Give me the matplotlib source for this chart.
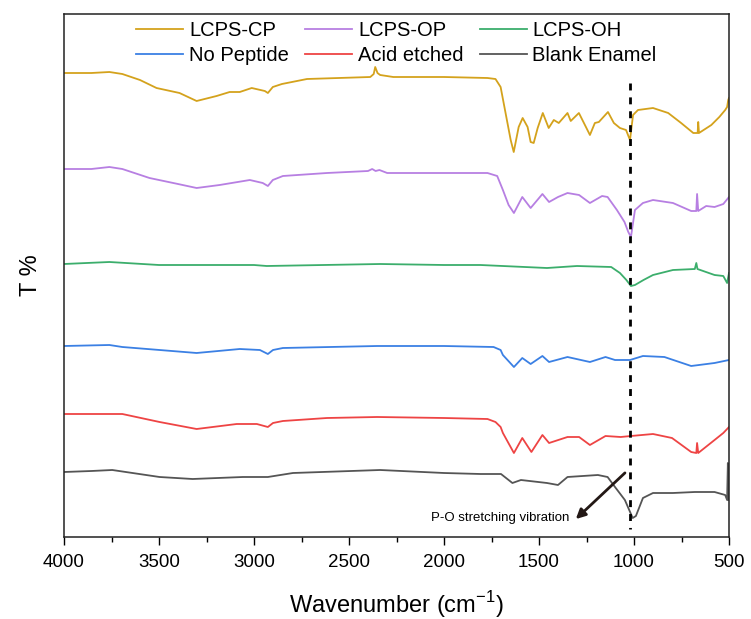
import matplotlib
matplotlib.use("Agg")
import matplotlib.pyplot as plt
import numpy as np

plt.rcParams['font.family'] = ['Liberation Sans', 'DejaVu Sans']

# Wavenumbers (cm-1) and vertical readings (stacked-scale units; larger = lower on chart)
cp_x = [4000, 3856, 3761, 3693, 3600, 3513, 3392, 3302, 3197, 3128, 3075, 3012, 2943, 2927, 2901, 2853, 2721,
        2388, 2370, 2362, 2350, 2336, 2267, 2000, 1771, 1729, 1702, 1676, 1649, 1633, 1607, 1586, 1560, 1544,
        1528, 1507, 1480, 1449, 1422, 1396, 1350, 1333, 1290, 1253, 1232, 1206, 1185, 1137, 1106, 1074, 1042,
        1021, 1005, 979, 900, 820, 752, 688, 665, 662, 658, 593, 551, 520, 510, 504, 500]
cp_y = [73, 73, 72, 74, 80, 88, 93, 101, 96, 92, 92, 88, 91, 93, 87, 84, 79,
        77, 74, 67, 73, 75, 77, 77, 78, 79, 87, 113, 140, 152, 127, 118, 127, 142,
        143, 128, 113, 128, 120, 123, 113, 121, 113, 127, 135, 123, 122, 112, 123, 128, 130,
        140, 115, 110, 108, 113, 123, 133, 133, 122, 133, 125, 117, 110, 107, 100, 98]

op_x = [4000, 3856, 3761, 3693, 3550, 3400, 3302, 3181, 3022, 2954, 2927, 2901, 2848, 2616, 2400, 2378, 2360,
        2340, 2299, 2000, 1771, 1720, 1690, 1660, 1632, 1588, 1544, 1482, 1447, 1400, 1350, 1289, 1232, 1168,
        1139, 1090, 1050, 1030, 1016, 995, 953, 900, 795, 699, 672, 668, 662, 620, 576, 530, 500]
op_y = [169, 169, 167, 169, 178, 184, 188, 185, 180, 183, 186, 180, 176, 173, 171, 169, 171,
        170, 173, 173, 173, 176, 190, 205, 213, 197, 208, 194, 202, 197, 193, 195, 203, 196,
        197, 210, 222, 232, 237, 210, 203, 200, 203, 211, 211, 194, 211, 206, 207, 204, 197]

oh_x = [4000, 3761, 3500, 3000, 2933, 2336, 2000, 1808, 1458, 1300, 1120, 1074, 1040, 1016, 995, 950, 900, 795,
        680, 672, 666, 576, 530, 510, 500]
oh_y = [264, 262, 265, 265, 266, 264, 265, 265, 268, 266, 267, 273, 280, 286, 285, 280, 275, 270,
        269, 263, 269, 275, 276, 283, 273]

np_x = [4000, 3761, 3693, 3497, 3302, 3075, 2969, 2927, 2900, 2848, 2352, 2000, 1739, 1702, 1690, 1632, 1588,
        1544, 1482, 1447, 1350, 1232, 1150, 1100, 1021, 953, 840, 699, 576, 500]
np_y = [346, 345, 347, 350, 353, 349, 350, 354, 350, 348, 346, 346, 347, 350, 355, 367, 358,
        364, 356, 362, 357, 362, 357, 360, 360, 356, 357, 366, 363, 360]

ae_x = [4000, 3693, 3497, 3302, 3091, 2985, 2927, 2900, 2848, 2616, 2352, 2000, 1771, 1729, 1702, 1690, 1632,
        1588, 1540, 1482, 1447, 1350, 1289, 1232, 1150, 1070, 1016, 900, 800, 699, 672, 668, 662, 576, 530, 500]
ae_y = [414, 414, 422, 429, 424, 424, 427, 423, 421, 418, 417, 418, 419, 422, 427, 433, 453,
        438, 452, 435, 443, 437, 437, 445, 436, 437, 436, 434, 438, 452, 453, 443, 453, 440, 433, 427]

be_x = [4000, 3856, 3746, 3497, 3323, 3059, 2927, 2795, 2336, 2000, 1808, 1700, 1640, 1595, 1458, 1400, 1350,
        1190, 1139, 1100, 1048, 1007, 990, 953, 900, 795, 680, 576, 520, 510, 506, 503, 500]
be_y = [472, 471, 470, 477, 479, 477, 477, 473, 470, 473, 474, 474, 483, 480, 483, 485, 477,
        475, 477, 487, 500, 518, 516, 498, 493, 493, 492, 492, 495, 500, 463, 500, 480]

labels = ["LCPS-CP", "LCPS-OP", "LCPS-OH", "No Peptide", "Acid etched", "Blank Enamel"]
colors = ["#d4a21c", "#b77fe2", "#3cae6c", "#3b80e4", "#ee4444", "#555555"]
series = [(cp_x, cp_y), (op_x, op_y), (oh_x, oh_y), (np_x, np_y), (ae_x, ae_y), (be_x, be_y)]

po_band = 1021
annot_text = "P-O stretching vibration"

fig = plt.figure(figsize=(7.51, 6.19), dpi=100)
ax = fig.add_axes([64/751, 82/619, 665/751, 523/619])

handles = []
for (x, y), lab, c in zip(series, labels, colors):
    h, = ax.plot(x, y, color=c, lw=1.3, label=lab)
    handles.append(h)

ax.plot([po_band, po_band], [83, 529], color='black', lw=2, ls=(0, (2.5, 2.5)))
ax.annotate("", xy=(1317, 521), xytext=(1037, 471),
            arrowprops=dict(arrowstyle='-|>', color='#231815', lw=2, mutation_scale=14))
ax.text(1340, 518, annot_text, fontsize=9.5, ha='right', va='center', color='black')

ax.set_xlim(4000, 500)
ax.set_ylim(537, 14)
ax.set_yticks([])
ax.set_xticks([4000, 3500, 3000, 2500, 2000, 1500, 1000, 500])
ax.set_xticks(np.arange(3750, 500, -500), minor=True)
ax.tick_params(axis='x', which='major', direction='out', length=6, width=1, labelsize=13.5, pad=6)
ax.tick_params(axis='x', which='minor', direction='out', length=3.5, width=1)
for s in ax.spines.values():
    s.set_linewidth(1.1)
    s.set_color('#222222')

ax.set_xlabel("Wavenumber (cm$^{\\mathregular{-1}}$)", fontsize=17, labelpad=13)
ax.set_ylabel("T %", fontsize=17, labelpad=16)

# row-wise legend order: matplotlib fills columns first
order = [0, 3, 1, 4, 2, 5]
ax.legend([handles[i] for i in order], [labels[i] for i in order],
          loc='upper left', ncol=3, frameon=False, fontsize=14.5, handlelength=2.35,
          columnspacing=0.8, handletextpad=0.28, labelspacing=0.32,
          borderaxespad=0, borderpad=0,
          bbox_to_anchor=(136/751, (619-21)/619), bbox_transform=fig.transFigure)

fig.savefig("out.png", dpi=100)
